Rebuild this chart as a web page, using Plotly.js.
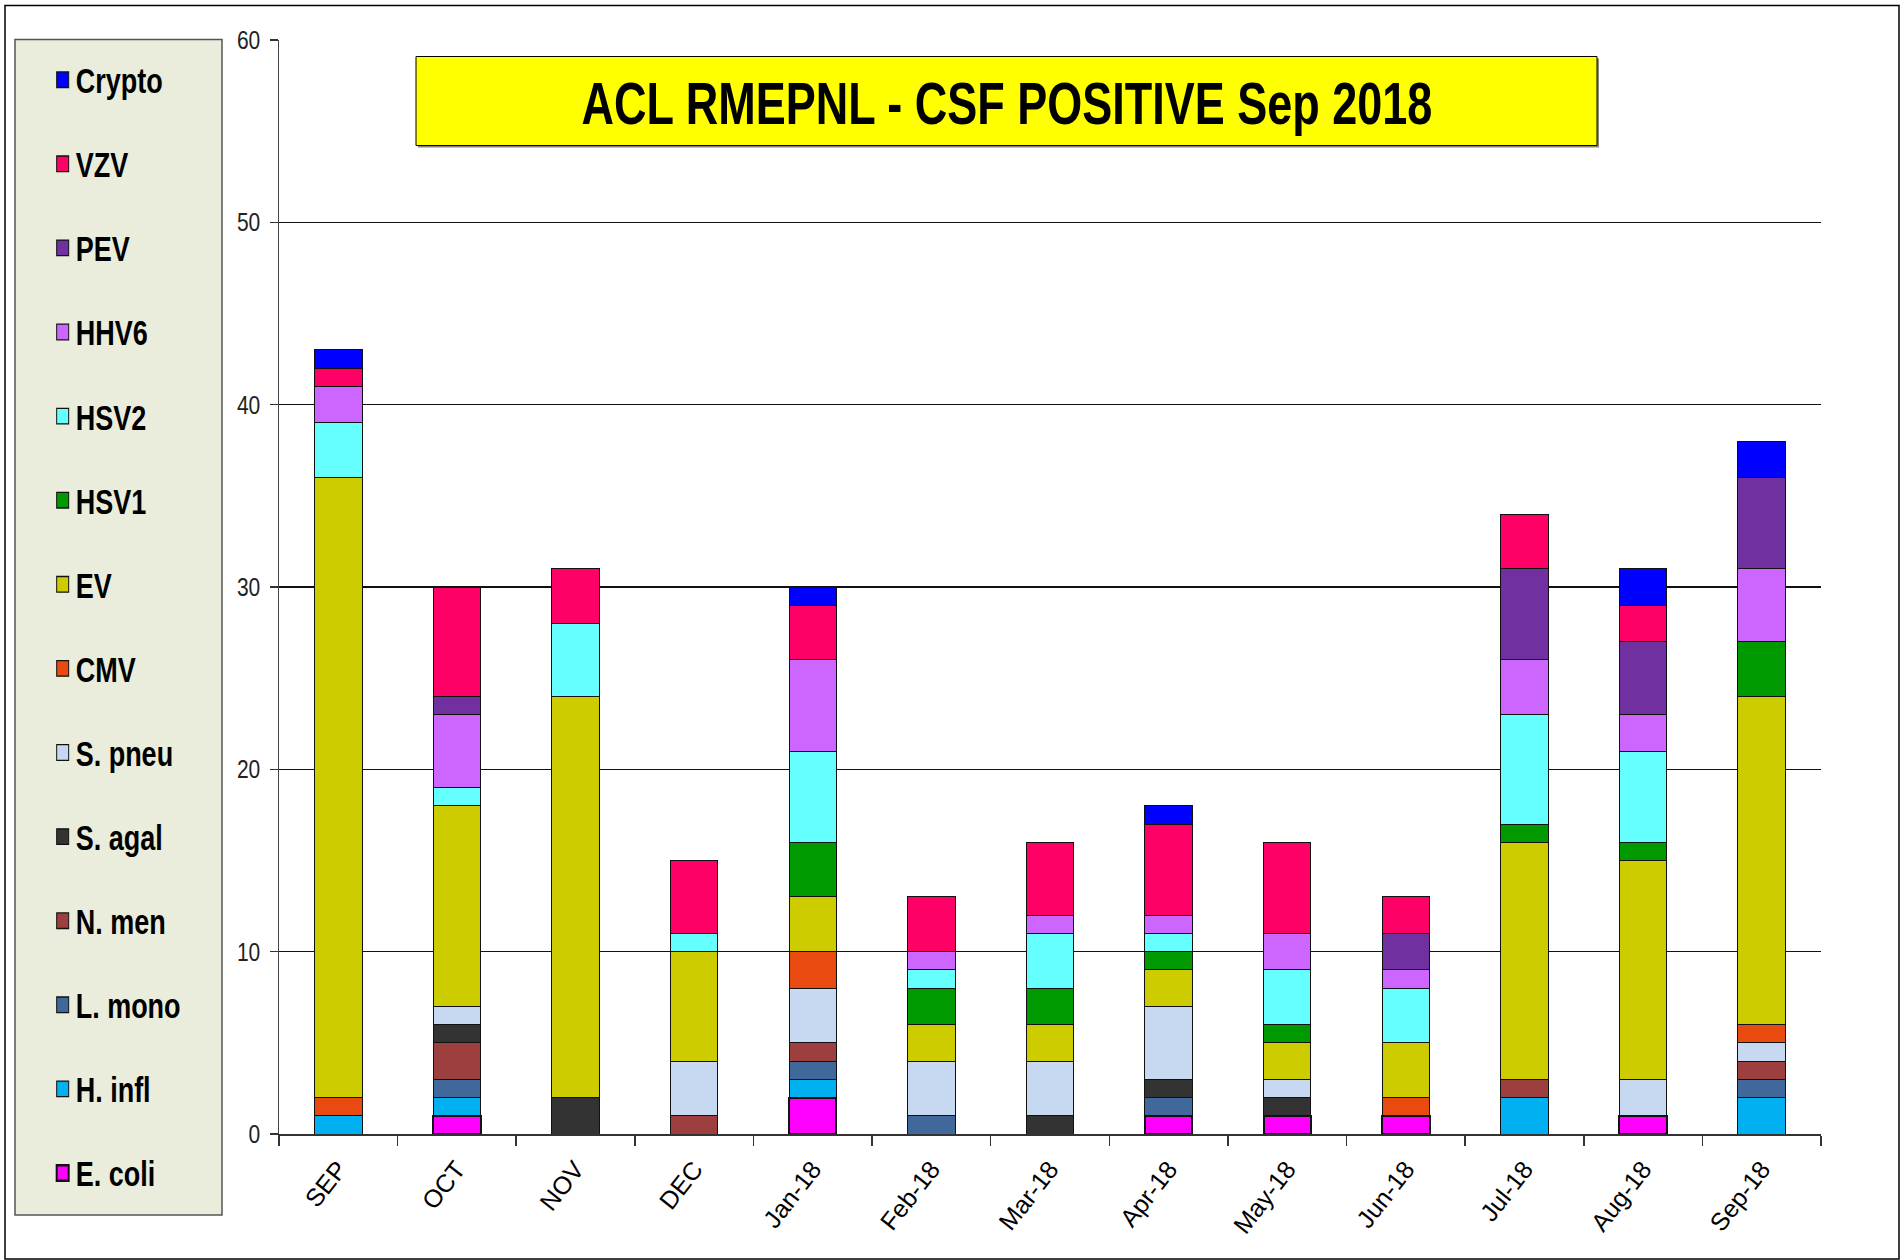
<!DOCTYPE html>
<html>
<head>
<meta charset="utf-8">
<script src="https://cdn.plot.ly/plotly-3.0.1.min.js"></script>
<style>
html,body{margin:0;padding:0;background:#fff;}
#chart{width:1902px;height:1260px;}
</style>
</head>
<body>
<div id="chart"></div>
<script>
// ---- data ----
const months = ['SEP','OCT','NOV','DEC','Jan-18','Feb-18','Mar-18','Apr-18','May-18','Jun-18','Jul-18','Aug-18','Sep-18'];
const seriesNames = ['E. coli','H. infl','L. mono','N. men','S. agal','S. pneu','CMV','EV','HSV1','HSV2','HHV6','PEV','VZV','Crypto'];
const ecoli  = [0,1,0,0,2,0,0,1,1,1,0,1,0];
const hinfl  = [1,1,0,0,1,0,0,0,0,0,2,0,2];
const lmono  = [0,1,0,0,1,1,0,1,0,0,0,0,1];
const nmen   = [0,2,0,1,1,0,0,0,0,0,1,0,1];
const sagal  = [0,1,2,0,0,0,1,1,1,0,0,0,0];
const spneu  = [0,1,0,3,3,3,3,4,1,0,0,2,1];
const cmv    = [1,0,0,0,2,0,0,0,0,1,0,0,1];
const ev     = [34,11,22,6,3,2,2,2,2,3,13,12,18];
const hsv1   = [0,0,0,0,3,2,2,1,1,0,1,1,3];
const hsv2   = [3,1,4,1,5,1,3,1,3,3,6,5,0];
const hhv6   = [2,4,0,0,5,1,1,1,2,1,3,2,4];
const pev    = [0,1,0,0,0,0,0,0,0,2,5,4,5];
const vzv    = [1,6,3,4,3,3,4,5,5,2,3,2,0];
const crypto = [1,0,0,0,1,0,0,1,0,0,0,2,2];
const seriesValues = [ecoli,hinfl,lmono,nmen,sagal,spneu,cmv,ev,hsv1,hsv2,hhv6,pev,vzv,crypto];
const seriesColors = ['#FF00FF','#00B0F0','#41689A','#9E3F3F','#333333','#C6D9F0','#E84A10','#CCCC00','#009900','#66FFFF','#CC66FF','#7030A0','#FF0066','#0000FF'];
const yTicks = [0,10,20,30,40,50,60];
const chartTitle = 'ACL RMEPNL - CSF POSITIVE Sep 2018';

const FONT = '"Liberation Sans",Arial,sans-serif';

const traces = seriesNames.map((name,i)=>({
  type:'bar',
  name:name,
  x:months,
  y:seriesValues[i],
  legendgroup:'g'+i,
  legendrank:1000-i,
  marker:{color:seriesColors[i], line:{color:'#111', width:(i===0?2:1)}},
  hoverinfo:'skip'
}));

const layout = {
  width:1902, height:1260,
  paper_bgcolor:'#ffffff', plot_bgcolor:'#ffffff',
  margin:{l:279, r:81, t:40, b:126, pad:0},
  barmode:'stack',
  bargap:0.6,
  showlegend:true,
  title:{
    text:'<b>'+chartTitle+'</b>',
    font:{family:FONT, size:45, color:'#000'},
    x:0.4721, xref:'paper', xanchor:'center',
    y:1-99/1260, yref:'container', yanchor:'middle'
  },
  legend:{
    x:-0.1578, xanchor:'left', y:0.9857, yanchor:'top',
    bgcolor:'rgba(0,0,0,0)', borderwidth:0,
    traceorder:'grouped', tracegroupgap:46,
    maxheight:1250,
    font:{family:FONT, size:27, color:'#000', weight:'bold'},
    itemclick:false, itemdoubleclick:false
  },
  xaxis:{
    type:'category',
    tickson:'boundaries', ticks:'outside', ticklen:10, tickwidth:1.5, tickcolor:'#333',
    showline:true, linecolor:'#333', linewidth:1.5,
    tickangle:-52, ticklabelstandoff:9,
    tickfont:{family:FONT, size:25, color:'#000'},
    showgrid:false, zeroline:false, fixedrange:true
  },
  yaxis:{
    range:[0,60], tickvals:yTicks, ticktext:yTicks.map(String),
    ticks:'outside', ticklen:8, tickwidth:1.5, tickcolor:'#333',
    showline:true, linecolor:'#444', linewidth:1.5,
    showgrid:true, gridcolor:'#111', gridwidth:1.5,
    zeroline:false,
    tickfont:{family:FONT, size:21, color:'#222'},
    ticklabelstandoff:5, fixedrange:true
  },
  shapes:[
    // outer frame
    {type:'rect', xref:'paper', yref:'paper', x0:(5-279)/1542, x1:(1899-279)/1542, y0:(1134-1259)/1093.5, y1:(1134-6)/1093.5,
     line:{color:'#000', width:1.5}, fillcolor:'rgba(0,0,0,0)', layer:'below'},
    // legend box
    {type:'rect', xref:'paper', yref:'paper', x0:(15-279)/1542, x1:(222-279)/1542, y0:(1134-1215)/1093.5, y1:(1134-40)/1093.5,
     line:{color:'#555', width:1.5}, fillcolor:'#EAEDDC', layer:'below'},
    // title box shadow
    {type:'rect', xref:'paper', yref:'paper', x0:(418-279)/1542, x1:(1599-279)/1542, y0:(1134-148)/1093.5, y1:(1134-59)/1093.5,
     line:{width:0}, fillcolor:'#888', layer:'above'},
    // title box
    {type:'rect', xref:'paper', yref:'paper', x0:(416-279)/1542, x1:(1597-279)/1542, y0:(1134-146)/1093.5, y1:(1134-57)/1093.5,
     line:{color:'#000', width:1}, fillcolor:'#FFFF00', layer:'above'}
  ]
};

function stretchText(el, k){
  const y = parseFloat(el.getAttribute('y')) || 0;
  const fs = parseFloat(el.style.fontSize) || 20;
  const cy = y - 0.36*fs;
  const prev = el.getAttribute('transform') || '';
  el.setAttribute('transform', prev + ' translate(0,' + cy + ') scale(1,' + k + ') translate(0,' + (-cy) + ')');
}

Plotly.newPlot('chart', traces, layout, {displayModeBar:false, staticPlot:true}).then(function(gd){
  gd.querySelectorAll('.gtitle').forEach(el => stretchText(el, 1.3));
  gd.querySelectorAll('.legendtext').forEach(el => stretchText(el, 1.3));
  gd.querySelectorAll('.ytick text').forEach(el => stretchText(el, 1.2));
  gd.querySelectorAll('.legendpoints path').forEach(el => {
    const prev = el.getAttribute('transform') || '';
    el.setAttribute('transform', prev + ' translate(7,0) scale(1,1.3)');
  });
});
</script>
</body>
</html>
